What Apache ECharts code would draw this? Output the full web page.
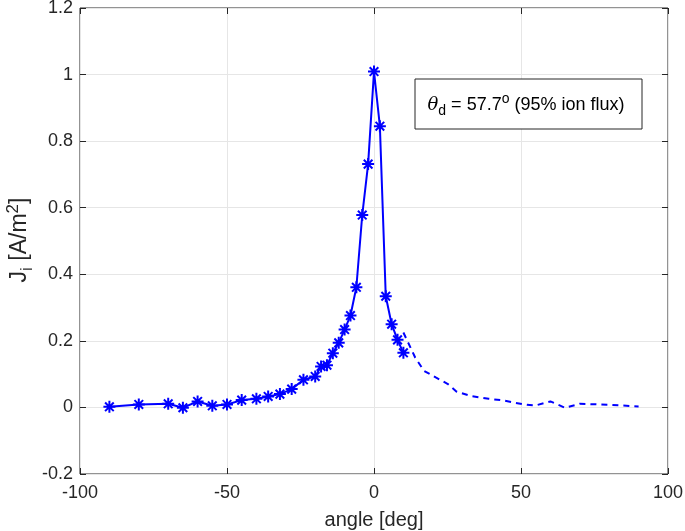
<!DOCTYPE html>
<html><head><meta charset="utf-8">
<script src="https://cdn.jsdelivr.net/npm/echarts@6/dist/echarts.min.js"></script>
<style>html,body{margin:0;padding:0;background:#fff}#c{width:685px;height:531px}</style>
</head><body><div id="c"></div>
<script>
// Measured data (solid, with markers)
const measAngle = [-90,-80,-70,-65,-60,-55,-50,-45,-40,-36,-32,-28,-24,-20,-18,-16,-14,-12,-10,-8,-6,-4,-2,0,2,4,6,8,10];
const measJ = [0.002,0.009,0.011,-0.001,0.018,0.005,0.009,0.022,0.026,0.033,0.040,0.055,0.083,0.093,0.123,0.127,0.163,0.194,0.234,0.276,0.361,0.578,0.731,1.009,0.845,0.334,0.250,0.203,0.164];
// Extrapolated tail (dashed)
const tailAngle = [10,14,17,21,25,28,33,39,44,48,52,55,60,65,70,80,90];
const tailJ = [0.225,0.150,0.110,0.090,0.071,0.048,0.034,0.026,0.021,0.014,0.008,0.006,0.018,-0.001,0.011,0.008,0.003];
const xTicks = [-100,-50,0,50,100];
const yTicks = [-0.2,0,0.2,0.4,0.6,0.8,1,1.2];

const chart = echarts.init(document.getElementById('c'), null, {renderer:'canvas'});
const font = 'Liberation Sans, Arial, Helvetica, sans-serif';
const star = 'path://M0,-1L0,1M-1,0L1,0M-0.72,-0.72L0.72,0.72M-0.72,0.72L0.72,-0.72';
const tickStyle = {show:true,inside:true,length:6,lineStyle:{color:'#262626',width:1}};
const gridLine = {show:true,lineStyle:{color:'#e6e6e6',width:1}};
chart.setOption({
  animation:false,
  backgroundColor:'#fff',
  grid:{left:80,right:17,top:8,bottom:57,show:true,borderColor:'#262626',borderWidth:1,
    backgroundColor:'transparent',containLabel:false,outerBoundsMode:'none'},
  xAxis:[
    {type:'value',min:xTicks[0],max:xTicks[xTicks.length-1],interval:50,position:'bottom',
      axisLine:{show:false,onZero:false},axisTick:tickStyle,splitLine:gridLine,
      axisLabel:{color:'#262626',fontSize:18,fontFamily:font,margin:10},
      name:'angle [deg]',nameLocation:'middle',nameGap:36,
      nameTextStyle:{color:'#262626',fontSize:20,fontFamily:font}},
    {type:'value',min:xTicks[0],max:xTicks[xTicks.length-1],interval:50,position:'top',
      axisLine:{show:false,onZero:false},axisTick:tickStyle,splitLine:{show:false},axisLabel:{show:false}}
  ],
  yAxis:[
    {type:'value',min:yTicks[0],max:yTicks[yTicks.length-1],interval:0.2,position:'left',
      axisLine:{show:false,onZero:false},axisTick:tickStyle,splitLine:gridLine,
      axisLabel:{color:'#262626',fontSize:18,fontFamily:font,margin:7,
        formatter:v=>String(Math.round(v*10)/10)}},
    {type:'value',min:yTicks[0],max:yTicks[yTicks.length-1],interval:0.2,position:'right',
      axisLine:{show:false,onZero:false},axisTick:tickStyle,splitLine:{show:false},axisLabel:{show:false}}
  ],
  series:[
    {type:'line',data:tailAngle.map((a,i)=>[a,tailJ[i]]),showSymbol:false,symbol:'none',
      lineStyle:{color:'#0000ff',width:2,type:[6,5]},z:2},
    {type:'line',data:measAngle.map((a,i)=>[a,measJ[i]]),symbol:star,symbolSize:12,
      itemStyle:{color:'#0000ff',borderColor:'#0000ff',borderWidth:2},
      lineStyle:{color:'#0000ff',width:2},z:3}
  ],
  graphic:[
    {type:'rect',shape:{x:415,y:79,width:227,height:50},style:{fill:'#fff',stroke:'#262626',lineWidth:1},z:10},
    {type:'text',x:526,y:105,z:11,style:{
      text:'{th|θ}{sub|d}{n| = 57.7}{sup|o}{n| (95% ion flux)}',
      align:'center',verticalAlign:'middle',
      rich:{
        th:{fontSize:18,fontStyle:'italic',fontFamily:'DejaVu Serif, serif',fill:'#000'},
        sub:{fontSize:14,fontFamily:font,fill:'#000',padding:[12,0,0,0]},
        n:{fontSize:18,fontFamily:font,fill:'#000'},
        sup:{fontSize:14,fontFamily:font,fill:'#000',padding:[0,0,12,0]}
      }}},
    {type:'text',x:20,y:240,rotation:Math.PI/2,z:11,style:{
      text:'{n|J}{sub|i}{n| [A/m}{sup|2}{n|]}',
      align:'center',verticalAlign:'middle',
      rich:{
        n:{fontSize:23,fontFamily:font,fill:'#262626'},
        sub:{fontSize:17,fontFamily:font,fill:'#262626',padding:[14,0,0,0]},
        sup:{fontSize:17,fontFamily:font,fill:'#262626',padding:[0,0,14,0]}
      }}}
  ]
});
</script></body></html>
